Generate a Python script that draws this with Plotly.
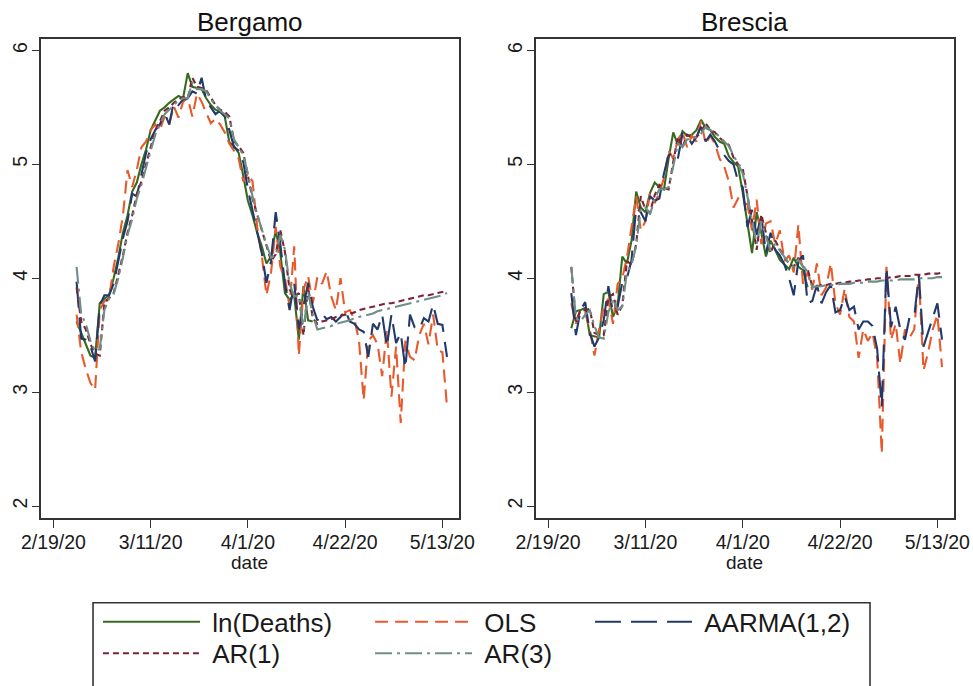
import plotly.graph_objects as go
import pandas as pd

dates = pd.date_range("2020-02-24", periods=81, freq="D")

series_names = ["ln(Deaths)", "OLS", "AARMA(1,2)", "AR(1)", "AR(3)"]
panel_titles = ["Bergamo", "Brescia"]
tick_dates = ["2020-02-19", "2020-03-11", "2020-04-01", "2020-04-22", "2020-05-13"]
tick_text = ["2/19/20", "3/11/20", "4/1/20", "4/22/20", "5/13/20"]
y_ticks = [2, 3, 4, 5, 6]
x_title = "date"

# ---------------- Bergamo ----------------
bg_ln_deaths = [3.62, 3.52, 3.42, 3.32, 3.30, 3.78, 3.82, 3.85, 4.00, 4.18,
                4.40, 4.55, 4.76, 4.84, 5.00, 5.13, 5.30, 5.38, 5.47, 5.50,
                5.54, 5.57, 5.60, 5.58, 5.80, 5.68, 5.67, 5.66, 5.58, 5.52,
                5.48, 5.46, 5.42, 5.19, 5.16, 5.10, 4.90, 4.68, 4.55, 4.40,
                4.28, 4.13, 4.19, 4.42, 4.22, 3.87, 3.81, 3.85, 3.46, 3.93,
                3.63, 3.62]
bg_ols = [3.68, 3.35, 3.20, 3.08, 3.02, 3.72, 3.80, 3.82, 4.10, 4.30,
          4.55, 4.95, 4.80, 4.95, 5.15, 5.20, 5.30, 5.35, 5.30, 5.42,
          5.35, 5.51, 5.41, 5.55, 5.58, 5.42, 5.62, 5.55, 5.45, 5.36,
          5.40, 5.35, 5.28, 5.18, 5.12, 5.05, 4.85, 4.92, 4.85, 4.45,
          4.20, 3.85, 4.05, 4.45, 4.10, 4.00, 3.75, 4.28, 3.32, 3.90,
          4.02, 3.78, 4.01, 3.95, 4.06, 3.84, 3.72, 4.00, 3.70, 3.72,
          3.64, 3.45, 2.93, 3.45, 3.50, 3.42, 3.14, 3.55, 2.96, 3.40,
          2.73, 3.45, 3.31, 3.28, 3.50, 3.60, 3.42, 3.68, 3.37, 3.35, 2.87]
bg_aarma = [3.97, 3.47, 3.46, 3.40, 3.27, 3.76, 3.85, 3.85, 3.95, 4.15,
            4.35, 4.50, 4.74, 4.72, 4.92, 5.10, 5.22, 5.30, 5.35, 5.45,
            5.35, 5.55, 5.52, 5.57, 5.58, 5.64, 5.62, 5.76, 5.56, 5.50,
            5.44, 5.47, 5.42, 5.30, 5.15, 5.12, 5.02, 4.78, 4.60, 4.42,
            4.22, 3.96, 4.15, 4.58, 4.30, 3.95, 3.72, 3.96, 3.55, 3.75,
            3.96, 3.75, 3.63, 3.69, 3.64, 3.66, 3.62, 3.66, 3.72, 3.62,
            3.60, 3.55, 3.53, 3.31, 3.60, 3.55, 3.68, 3.40, 3.68, 3.43,
            3.52, 3.21, 3.68, 3.57, 3.55, 3.65, 3.62, 3.77, 3.60, 3.59, 3.31]
bg_ar1 = [3.92, 3.62, 3.55, 3.42, 3.34, 3.32, 3.78, 3.83, 3.87, 4.03,
          4.20, 4.40, 4.55, 4.74, 4.85, 5.00, 5.14, 5.30, 5.38, 5.47,
          5.50, 5.54, 5.57, 5.59, 5.58, 5.76, 5.68, 5.67, 5.65, 5.58,
          5.52, 5.48, 5.46, 5.42, 5.20, 5.16, 5.10, 4.90, 4.70, 4.56,
          4.42, 4.30, 4.15, 4.21, 4.42, 4.23, 3.90, 3.84, 3.87, 3.50,
          3.93, 3.65,
          3.60, 3.62, 3.63, 3.64, 3.66, 3.67, 3.68, 3.69, 3.70, 3.72,
          3.73, 3.74, 3.75, 3.76, 3.77, 3.78, 3.78, 3.79, 3.80, 3.81,
          3.82, 3.83, 3.84, 3.85, 3.85, 3.86, 3.87, 3.88, 3.89]
bg_ar3 = [4.10, 3.68, 3.60, 3.45, 3.36, 3.38, 3.72, 3.82, 3.86, 4.00,
          4.18, 4.38, 4.52, 4.70, 4.82, 4.98, 5.12, 5.26, 5.35, 5.44,
          5.48, 5.52, 5.56, 5.58, 5.58, 5.72, 5.66, 5.66, 5.64, 5.57,
          5.52, 5.47, 5.44, 5.40, 5.22, 5.15, 5.08, 4.92, 4.72, 4.56,
          4.42, 4.30, 4.18, 4.20, 4.38, 4.25, 3.95, 3.84, 3.85, 3.55,
          3.88, 3.68,
          3.55, 3.56, 3.57, 3.58, 3.60, 3.61, 3.62, 3.63, 3.65, 3.66,
          3.67, 3.68, 3.69, 3.71, 3.72, 3.73, 3.74, 3.75, 3.76, 3.77,
          3.78, 3.79, 3.80, 3.81, 3.82, 3.83, 3.84, 3.85, 3.87]

# ---------------- Brescia ----------------
bs_ln_deaths = [3.56, 3.71, 3.72, 3.74, 3.50, 3.49, 3.48, 3.86, 3.88, 3.66,
                3.76, 4.19, 4.13, 4.33, 4.76, 4.62, 4.58, 4.75, 4.84, 4.80,
                4.78, 5.05, 5.28, 5.17, 5.29, 5.25, 5.26, 5.30, 5.39, 5.32,
                5.30, 5.24, 5.20, 5.18, 5.07, 5.02, 4.98, 4.75, 4.50, 4.22,
                4.58, 4.40, 4.19, 4.33, 4.25, 4.16, 4.12, 4.08, 4.18, 4.10,
                4.07, 3.92]
bs_ols = [3.78, 3.60, 3.72, 3.70, 3.55, 3.32, 3.55, 3.75, 3.82, 3.60,
          3.95, 4.00, 4.18, 4.45, 4.72, 4.42, 4.50, 4.75, 4.66, 4.75,
          4.88, 5.12, 5.05, 5.22, 5.28, 5.15, 5.25, 5.20, 5.38, 5.18,
          5.25, 5.18, 5.05, 4.98, 4.85, 4.62, 4.70, 4.66, 4.65, 4.42,
          4.69, 4.30, 4.48, 4.50, 4.30, 4.42, 4.15, 4.20, 4.05, 4.47,
          3.95, 4.05, 3.90, 4.13, 3.85, 3.92, 4.13, 3.78, 3.68, 3.91,
          3.66, 3.62, 3.30, 3.55, 3.45, 3.52, 3.30, 2.46, 4.10, 3.46,
          3.60, 3.25, 3.55, 3.48, 3.55, 4.03, 3.19, 3.35, 3.55, 3.68, 3.22]
bs_aarma = [3.87, 3.50, 3.72, 3.79, 3.52, 3.40, 3.48, 3.63, 3.93, 3.70,
            3.75, 3.96, 4.00, 4.16, 4.62, 4.58, 4.50, 4.72, 4.68, 4.70,
            4.92, 5.08, 5.10, 5.05, 5.27, 5.25, 5.18, 5.24, 5.33, 5.20,
            5.26, 5.20, 5.12, 5.08, 5.03, 5.00, 4.85, 4.80, 4.45, 4.60,
            4.38, 4.55, 4.22, 4.40, 4.25, 4.20, 4.12, 4.00, 3.85, 4.15,
            4.20, 3.78, 3.80, 3.94, 3.78, 3.88, 3.94, 3.70, 3.72, 3.84,
            3.72, 3.75, 3.55, 3.62, 3.62, 3.58, 3.38, 2.87, 4.10, 3.57,
            3.75, 3.55, 3.46, 3.66, 3.66, 4.03, 3.40, 3.52, 3.65, 3.78, 3.46]
bs_ar1 = [4.10, 3.62, 3.72, 3.72, 3.73, 3.52, 3.50, 3.50, 3.83, 3.86,
          3.68, 3.76, 4.15, 4.12, 4.30, 4.72, 4.60, 4.58, 4.73, 4.82,
          4.79, 4.78, 5.02, 5.24, 5.15, 5.26, 5.23, 5.24, 5.28, 5.36,
          5.30, 5.28, 5.23, 5.20, 5.17, 5.06, 5.00, 4.96, 4.74, 4.50,
          4.25, 4.56, 4.40, 4.22, 4.33, 4.25, 4.18, 4.13, 4.10, 4.18,
          4.10, 4.08,
          3.93, 3.93, 3.94, 3.94, 3.95, 3.95, 3.96, 3.96, 3.97, 3.97,
          3.98, 3.98, 3.99, 3.99, 4.00, 4.00, 4.00, 4.01, 4.01, 4.02,
          4.02, 4.02, 4.03, 4.03, 4.03, 4.04, 4.04, 4.04, 4.05]
bs_ar3 = [4.10, 3.65, 3.62, 3.68, 3.72, 3.58, 3.48, 3.47, 3.70, 3.82,
          3.72, 3.75, 4.05, 4.12, 4.28, 4.62, 4.62, 4.56, 4.70, 4.78,
          4.78, 4.80, 4.98, 5.18, 5.15, 5.22, 5.22, 5.24, 5.27, 5.33,
          5.30, 5.28, 5.24, 5.20, 5.16, 5.08, 5.00, 4.92, 4.72, 4.50,
          4.30, 4.50, 4.36, 4.24, 4.30, 4.24, 4.18, 4.13, 4.10, 4.16,
          4.10, 4.06,
          3.92, 3.93, 3.93, 3.94, 3.94, 3.94, 3.95, 3.95, 3.95, 3.96,
          3.96, 3.96, 3.97, 3.97, 3.97, 3.98, 3.98, 3.98, 3.98, 3.99,
          3.99, 3.99, 3.99, 4.00, 4.00, 4.00, 4.00, 4.01, 4.01]

panels = [
    [bg_ln_deaths, bg_ols, bg_aarma, bg_ar1, bg_ar3],
    [bs_ln_deaths, bs_ols, bs_aarma, bs_ar1, bs_ar3],
]

colors = ["#356b1f", "#e85a2c", "#22396b", "#7a2436", "#6f8f86"]
dashes = ["solid", "13px,7px", "26px,10px", "6px,4px", "17px,5px,3px,5px"]
legend_ids = ["legend", "legend2", "legend3", "legend4", "legend5"]

FONT = "Liberation Sans, Arial, Helvetica, sans-serif"

fig = go.Figure()
for p, series in enumerate(panels):
    xa = "x" if p == 0 else "x2"
    ya = "y" if p == 0 else "y2"
    for k, vals in enumerate(series):
        fig.add_trace(go.Scatter(
            x=dates[:len(vals)], y=vals, mode="lines",
            name="\u00a0" + series_names[k],
            line=dict(color=colors[k], width=2.1, dash=dashes[k]),
            xaxis=xa, yaxis=ya,
            showlegend=(p == 0), legend=legend_ids[k],
            hoverinfo="skip",
        ))

x_range = ["2020-02-16 07:30", "2020-05-16 14:00"]
axis_common = dict(
    showline=True, mirror=True, linecolor="#333333", linewidth=1.6,
    ticks="outside", ticklen=8, tickwidth=1.4, tickcolor="#333333",
    showgrid=False, zeroline=False,
    tickfont=dict(family=FONT, size=19.5, color="#1a1a1a"),
)
x_common = dict(axis_common, type="date", range=x_range,
                tickvals=tick_dates, ticktext=tick_text, ticklabelstandoff=-2)
y_common = dict(axis_common, range=[1.895, 6.10], tickvals=y_ticks, tickangle=-90,
                ticklen=7, ticklabelstandoff=-3)

fig.update_layout(
    width=973, height=686,
    margin=dict(l=41, r=19, t=39, b=168, autoexpand=False),
    paper_bgcolor="white", plot_bgcolor="white",
    font=dict(family=FONT, color="#1a1a1a"),
    xaxis=dict(x_common, domain=[0, 0.4578], anchor="y"),
    yaxis=dict(y_common, domain=[0, 1], anchor="x"),
    xaxis2=dict(x_common, domain=[0.5418, 1.0], anchor="y2"),
    yaxis2=dict(y_common, domain=[0, 1], anchor="x2"),
)

legend_pos = [(0.0624, -0.1676), (0.3604, -0.1676), (0.6013, -0.1676),
              (0.0624, -0.2336), (0.3604, -0.2336)]
for lid, (lx, ly) in zip(legend_ids, legend_pos):
    fig.update_layout({lid: dict(
        x=lx, y=ly, xanchor="left", yanchor="top", xref="paper", yref="paper",
        orientation="v", bgcolor="rgba(0,0,0,0)", borderwidth=0,
        itemwidth=97, font=dict(family=FONT, size=26, color="#1a1a1a"),
        itemclick=False, itemdoubleclick=False,
    )})

# frame around the legend block
fig.add_shape(type="rect", xref="paper", yref="paper",
              x0=0.0570, x1=0.9080, y0=-0.1768, y1=-0.36,
              line=dict(color="#333333", width=1.6), fillcolor="rgba(0,0,0,0)", layer="above")

for title, cx in zip(panel_titles, [0.2289, 0.7709]):
    fig.add_annotation(text=title, x=cx, y=1.0355, xref="paper", yref="paper",
                       xanchor="center", yanchor="middle", showarrow=False,
                       font=dict(family=FONT, size=26, color="#111111"))
    fig.add_annotation(text=x_title, x=cx, y=-0.0935, xref="paper", yref="paper",
                       xanchor="center", yanchor="middle", showarrow=False,
                       font=dict(family=FONT, size=19, color="#1a1a1a"))

fig.write_html("out.html", config={"displayModeBar": False},
               post_script="document.body.style.margin='0px';")
